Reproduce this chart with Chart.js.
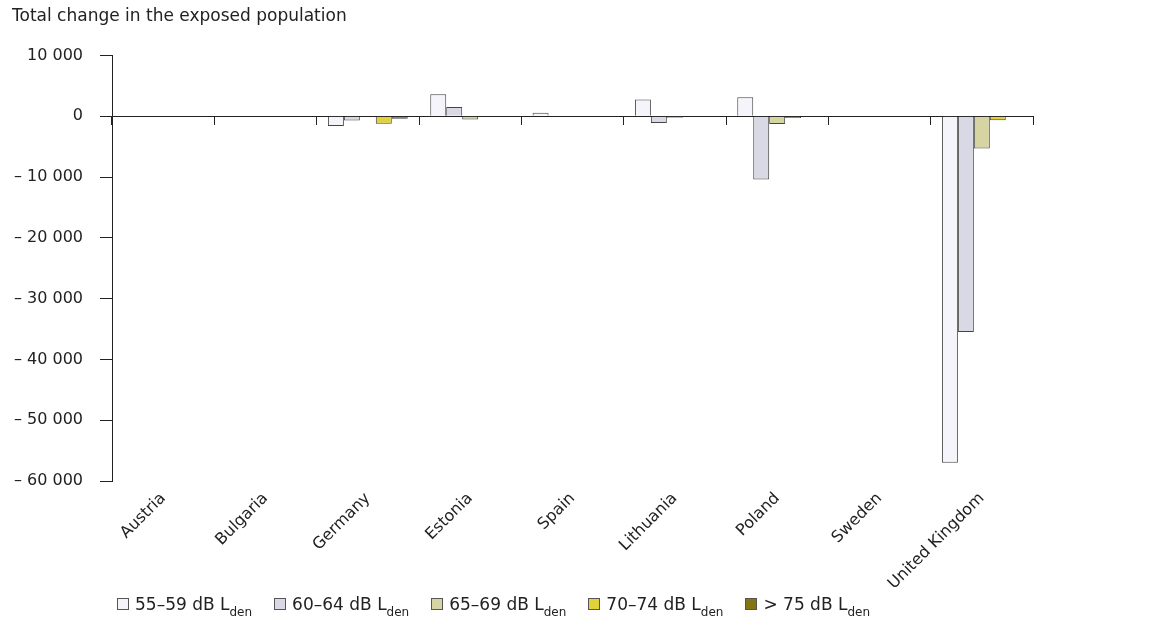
<!DOCTYPE html>
<html>
<head>
<meta charset="utf-8">
<script src="https://cdn.jsdelivr.net/npm/chart.js@4.4.1/dist/chart.umd.min.js"></script>
<style>
	html, body { margin: 0; padding: 0; background: #fff; }
	#wrap { position: relative; width: 1161px; height: 630px; }
	#legend {
		position: absolute; left: 117px; top: 594px;
		white-space: nowrap;
		font-family: "DejaVu Sans", Verdana, sans-serif; font-size: 17px; color: #222;
	}
	#legend .item { display: inline-block; margin-right: 22px; }
	#legend .box { display: inline-block; width: 10px; height: 10px; border: 1px solid #555; margin-right: 6px; vertical-align: 0px; }
	#legend sub { font-size: 12px; vertical-align: -6px; line-height: 0; }
</style>
</head>
<body>
<div id="wrap">
	<canvas id="myChart" width="1161" height="630"></canvas>
	<div id="legend"></div>
</div>
<script>
const countries = ['Austria', 'Bulgaria', 'Germany', 'Estonia', 'Spain', 'Lithuania', 'Poland', 'Sweden', 'United Kingdom']

// change in exposed population per noise band
const band55to59 = [0, 0, -1600, 3600, 550, 2750, 3100, 0, -57000]
const band60to64 = [0, 0, -700, 1500, 0, -1100, -10400, 0, -35500]
const band65to69 = [0, 0, 0, -550, 0, -250, -1300, 0, -5300]
const band70to74 = [0, 0, -1250, 0, 0, -100, -300, 0, -650]
const band75plus = [0, 0, -400, 0, 0, 0, -100, 0, 0]

const bandLabels = ['55–59 dB L', '60–64 dB L', '65–69 dB L', '70–74 dB L', '> 75 dB L']
const bandColors = ['#f4f4fa', '#d9d9e6', '#d6d4a2', '#e2d23a', '#857512']

const yMin = -60000
const yMax = 10000
const yStep = 10000

const bandValues = [band55to59, band60to64, band65to69, band70to74, band75plus]

function fmtTick(v) {
	if (v === 0) return '0'
	let s = Math.abs(v).toString().replace(/\B(?=(\d{3})+(?!\d))/g, ' ')
	return v < 0 ? '– ' + s : s
}

let datasets = bandValues.map((vals, i) => ({
	label: bandLabels[i] + 'den',
	data: vals,
	backgroundColor: bandColors[i],
	borderColor: '#444',
	borderWidth: 1,
	barPercentage: 1,
	categoryPercentage: 0.78,
	xAxisID: 'x'
}))

const font = { family: '"DejaVu Sans", Verdana, sans-serif' }

let cfg = {
	type: 'bar',
	data: { labels: countries, datasets: datasets },
	options: {
		responsive: false,
		animation: false,
		layout: { padding: { left: 12, right: 128, top: 0, bottom: 0 } },
		plugins: {
			legend: { display: false },
			tooltip: { enabled: false },
			title: {
				display: true,
				text: 'Total change in the exposed population',
				align: 'start',
				color: '#222',
				font: { family: font.family, size: 17, weight: 'normal', lineHeight: 1.2 },
				padding: { top: 6, bottom: 29 }
			}
		},
		scales: {
			x: {
				type: 'category',
				position: { y: 0 },
				offset: true,
				grid: { offset: true, drawOnChartArea: false, drawTicks: true, tickLength: 8, color: '#222' },
				border: { display: true, color: '#222', width: 1 },
				ticks: { display: false }
			},
			x2: {
				type: 'category',
				labels: countries,
				position: 'bottom',
				offset: true,
				grid: { display: false, drawTicks: false },
				border: { display: false },
				ticks: {
					maxRotation: 45, minRotation: 45, autoSkip: false, padding: 8,
					color: '#222', font: { family: font.family, size: 16 }
				},
				afterFit: (scale) => { scale.height = 149 }
			},
			y: {
				min: yMin,
				max: yMax,
				grid: { drawOnChartArea: false, tickLength: 12, color: '#222' },
				border: { color: '#222', width: 1 },
				ticks: {
					stepSize: yStep, padding: 17, color: '#222',
					font: { family: font.family, size: 16 },
					callback: (v) => fmtTick(v)
				},
				afterFit: (scale) => { scale.width = 100 }
			}
		}
	}
}

let chart = new Chart('myChart', cfg)

// html legend so the "den" can be a subscript
const legendEl = document.getElementById('legend')
chart.data.datasets.forEach((ds, i) => {
	let item = document.createElement('span')
	item.className = 'item'
	item.innerHTML = '<span class="box" style="background:' + ds.backgroundColor + '"></span>' +
		bandLabels[i] + '<sub>den</sub>'
	legendEl.appendChild(item)
})
</script>
</body>
</html>
